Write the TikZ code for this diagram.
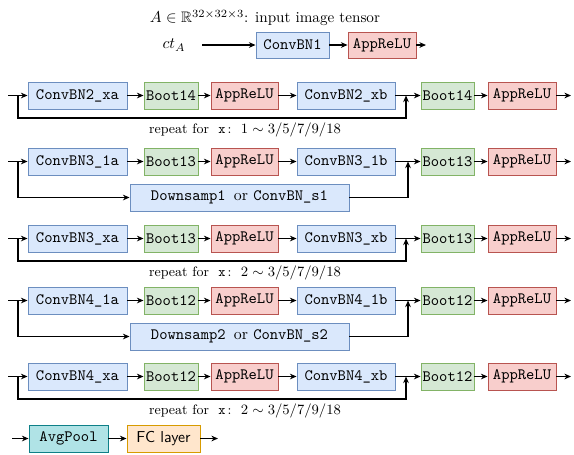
\documentclass[tikz,border=0pt]{standalone}
\usepackage{amssymb}
\usetikzlibrary{arrows.meta}
\definecolor{bfill}{HTML}{DAE8FC}\definecolor{bdraw}{HTML}{6C8EBF}
\definecolor{gfill}{HTML}{D5E8D4}\definecolor{gdraw}{HTML}{82B366}
\definecolor{rfill}{HTML}{F8CECC}\definecolor{rdraw}{HTML}{B85450}
\definecolor{tfill}{HTML}{B0E3E6}\definecolor{tdraw}{HTML}{0E8088}
\definecolor{ofill}{HTML}{FFE6CC}\definecolor{odraw}{HTML}{D79B00}
\begin{document}
\begin{tikzpicture}[x=0.6325pt,y=-0.6325pt,
  box/.style={draw, line width=0.6pt, inner sep=0pt, minimum height=27*0.6325pt, font=\ttfamily},
  wd/.style={minimum width=#1*0.6325pt},
  bluebox/.style={box, fill=bfill, draw=bdraw},
  greenbox/.style={box, fill=gfill, draw=gdraw},
  redbox/.style={box, fill=rfill, draw=rdraw},
  tealbox/.style={box, fill=tfill, draw=tdraw},
  orangebox/.style={box, fill=ofill, draw=odraw, font=\sffamily},
  reptext/.style={font=\fontsize{8.6}{10}\selectfont},
  arr/.style={-{Stealth[length=4.2pt,width=3.6pt]}, line width=0.8pt},
  ln/.style={line width=0.8pt}]
\useasboundingbox (0,0) rectangle (574,454);
% title row
\node[font=\fontsize{9.6}{11}\selectfont] (title) at (265,18) {$A\in\mathbb{R}^{32\times32\times3}$: input image tensor};
\node (ct) at (174,45) {$ct_A$};
\coordinate (s0) at (202,45);
\node[bluebox, wd=73, minimum height=26*0.6325pt] (c1) at (292.5,45) {ConvBN1};
\node[redbox, wd=68, minimum height=26*0.6325pt] (r0) at (382,45) {AppReLU};
\coordinate (e0) at (426,45);
\draw[arr] (s0) -- (c1);
\draw[arr] (c1) -- (r0);
\draw[arr] (r0) -- (e0);
% repeat rows
\foreach \r/\y/\na/\nb/\bt/\rep in {1/95.5/ConvBN2\_xa/ConvBN2\_xb/Boot14/1, 3/238.5/ConvBN3\_xa/ConvBN3\_xb/Boot13/2, 5/376.5/ConvBN4\_xa/ConvBN4\_xb/Boot12/2}{
  \coordinate (in\r) at (8,\y);
  \coordinate (j\r) at (18,\y);
  \coordinate (m\r) at (406,\y);
  \coordinate (out\r) at (571,\y);
  \node[bluebox, wd=99] (a\r) at (77.5,\y) {\na};
  \node[greenbox, wd=54] (b\r) at (171,\y) {\bt};
  \node[redbox, wd=67] (c\r) at (244.5,\y) {AppReLU};
  \node[bluebox, wd=98] (d\r) at (346,\y) {\nb};
  \node[greenbox, wd=53] (e\r) at (447.5,\y) {\bt};
  \node[redbox, wd=68] (f\r) at (522,\y) {AppReLU};
  \draw[arr] (in\r) -- (a\r);
  \draw[arr] (a\r) -- (b\r);
  \draw[arr] (b\r) -- (c\r);
  \draw[arr] (c\r) -- (d\r);
  \draw[arr] (d\r) -- (e\r);
  \draw[arr] (e\r) -- (f\r);
  \draw[arr] (f\r) -- (out\r);
  \draw[arr] (j\r) -- ++(0,22.5) -| (m\r);
  \node[reptext] (t\r) at (245,\y+34) {repeat for \ \texttt{x}\,:\ \ $\rep\sim 3/5/7/9/18$};
}
% downsample rows
\foreach \r/\y/\na/\nb/\bt/\ds/\cs in {2/161.5/ConvBN3\_1a/ConvBN3\_1b/Boot13/Downsamp1/ConvBN\_s1, 4/300.5/ConvBN4\_1a/ConvBN4\_1b/Boot12/Downsamp2/ConvBN\_s2}{
  \coordinate (in\r) at (8,\y);
  \coordinate (j\r) at (18,\y);
  \coordinate (m\r) at (408,\y);
  \coordinate (out\r) at (571,\y);
  \node[bluebox, wd=99] (a\r) at (77.5,\y) {\na};
  \node[greenbox, wd=54] (b\r) at (171,\y) {\bt};
  \node[redbox, wd=67] (c\r) at (244.5,\y) {AppReLU};
  \node[bluebox, wd=98] (d\r) at (346,\y) {\nb};
  \node[greenbox, wd=53] (e\r) at (447.5,\y) {\bt};
  \node[redbox, wd=68] (f\r) at (522,\y) {AppReLU};
  \node[bluebox, wd=219] (s\r) at (239.5,\y+36) {\ds\ \rmfamily or \ttfamily\cs};
  \draw[arr] (in\r) -- (a\r);
  \draw[arr] (a\r) -- (b\r);
  \draw[arr] (b\r) -- (c\r);
  \draw[arr] (c\r) -- (d\r);
  \draw[arr] (d\r) -- (e\r);
  \draw[arr] (e\r) -- (f\r);
  \draw[arr] (f\r) -- (out\r);
  \draw[arr] (j\r) |- (s\r.west);
  \draw[arr] (s\r.east) -| (m\r);
}
% final row
\coordinate (in6) at (12,438.5);
\node[tealbox, wd=79] (avg) at (68.5,438.5) {AvgPool};
\node[orangebox, wd=73] (fc) at (163.5,438.5) {FC layer};
\coordinate (out6) at (218,438.5);
\draw[arr] (in6) -- (avg);
\draw[arr] (avg) -- (fc);
\draw[arr] (fc) -- (out6);
\end{tikzpicture}
\end{document}
